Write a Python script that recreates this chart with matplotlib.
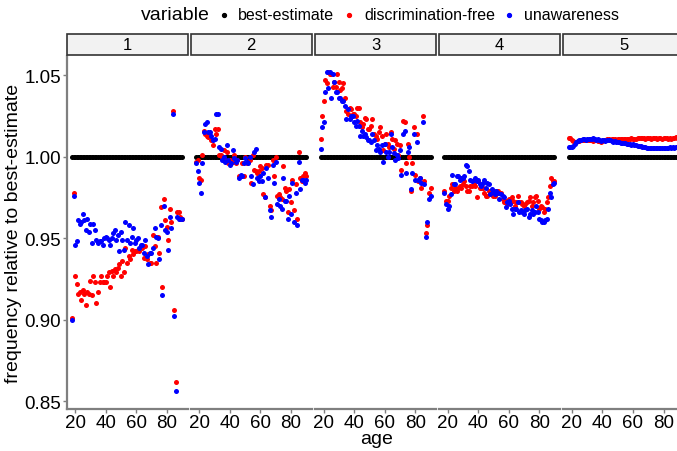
#!/usr/bin/env python3
"""
Relative claim frequency (vs best-estimate) by age, faceted by group 1-5.
Three price variants: best-estimate, discrimination-free, unawareness.
"""

import numpy as np
import matplotlib
matplotlib.use("Agg")
import matplotlib.pyplot as plt
from matplotlib.patches import Rectangle

plt.rcParams["font.family"] = ["Liberation Sans", "DejaVu Sans"]

AGES = np.arange(18, 91)
PANELS = ["1", "2", "3", "4", "5"]
VARIABLES = ["best-estimate", "discrimination-free", "unawareness"]
COLORS = {"best-estimate": "black", "discrimination-free": "red", "unawareness": "blue"}

Y_TICKS = [0.85, 0.90, 0.95, 1.00, 1.05]
X_TICKS = [20, 40, 60, 80]

# best-estimate is the reference, so it sits at 1 for every age
BEST_ESTIMATE = 1.0

# discrimination-free, ages 18..90, one list per panel
DISC_FREE_1 = [
    0.901, 0.978, 0.927, 0.922, 0.916, 0.917, 0.912, 0.918, 0.916, 0.909,
    0.917, 0.916, 0.924, 0.915, 0.927, 0.923, 0.910, 0.917, 0.923, 0.927,
    0.923, 0.923, 0.923, 0.927, 0.929, 0.920, 0.930, 0.927, 0.931, 0.929,
    0.932, 0.934, 0.927, 0.936, 0.929, 0.944, 0.935, 0.939, 0.937, 0.943,
    0.940, 0.942, 0.942, 0.943, 0.942, 0.945, 0.944, 0.938, 0.945, 0.937,
    0.940, 0.935, 0.935, 0.952, 0.945, 0.935, 0.951, 0.941, 0.969, 0.920,
    0.974, 0.961, 0.957, 0.949, 0.968, 0.960, 1.028, 0.906, 0.862, 0.966,
    0.966, 0.963, 0.962,
]
DISC_FREE_2 = [
    0.997, 0.998, 0.987, 0.986, 1.001, 1.016, 1.014, 1.013, 1.012, 1.013,
    1.010, 1.007, 1.017, 1.014, 1.017, 1.001, 1.001, 1.000, 1.004, 0.998,
    1.003, 0.996, 0.998, 0.996, 0.997, 1.001, 0.996, 0.998, 0.988, 0.988,
    0.996, 0.988, 1.000, 0.996, 0.997, 0.998, 0.984, 1.001, 0.992, 0.991,
    0.990, 0.991, 0.994, 0.993, 0.977, 0.975, 0.995, 0.995, 0.970, 0.967,
    0.998, 0.988, 1.000, 0.976, 0.977, 0.975, 0.974, 0.994, 0.981, 0.979,
    0.966, 0.980, 0.972, 0.986, 0.967, 0.983, 0.962, 1.003, 0.987, 0.985,
    0.988, 0.990, 0.988,
]
DISC_FREE_3 = [
    1.011, 1.025, 1.034, 1.047, 1.045, 1.052, 1.051, 1.051, 1.043, 1.046,
    1.043, 1.051, 1.046, 1.041, 1.042, 1.045, 1.036, 1.028, 1.026, 1.030,
    1.029, 1.026, 1.026, 1.025, 1.030, 1.030, 1.021, 1.018, 1.020, 1.024,
    1.023, 1.017, 1.017, 1.019, 1.023, 1.014, 1.013, 1.011, 1.015, 1.018,
    1.013, 1.004, 1.008, 1.014, 1.008, 1.006, 1.015, 1.011, 1.005, 1.010,
    1.008, 1.001, 1.007, 0.992, 1.022, 1.021, 0.996, 1.008, 1.000, 0.979,
    0.996, 1.018, 0.989, 1.014, 0.985, 0.987, 0.981, 1.025, 0.985, 0.953,
    0.958, 0.978, 0.981,
]
DISC_FREE_4 = [
    0.979, 0.973, 0.973, 0.976, 0.981, 0.983, 0.979, 0.981, 0.979, 0.981,
    0.982, 0.981, 0.983, 0.985, 0.982, 0.979, 0.979, 0.982, 0.982, 0.983,
    0.982, 0.975, 0.985, 0.981, 0.981, 0.981, 0.978, 0.976, 0.976, 0.979,
    0.977, 0.977, 0.976, 0.976, 0.979, 0.979, 0.978, 0.978, 0.974, 0.972,
    0.973, 0.971, 0.974, 0.972, 0.975, 0.973, 0.970, 0.972, 0.976, 0.972,
    0.972, 0.971, 0.970, 0.971, 0.972, 0.973, 0.975, 0.970, 0.972, 0.975,
    0.976, 0.973, 0.968, 0.970, 0.969, 0.966, 0.968, 0.972, 0.975, 0.982,
    0.987, 0.985, 0.985,
]
DISC_FREE_5 = [
    1.0115, 1.0112, 1.0105, 1.0098, 1.0092, 1.0090, 1.0095, 1.0098, 1.0100, 1.0102,
    1.0101, 1.0104, 1.0102, 1.0105, 1.0103, 1.0100, 1.0098, 1.0102, 1.0100, 1.0097,
    1.0094, 1.0092, 1.0096, 1.0100, 1.0103, 1.0106, 1.0108, 1.0105, 1.0108, 1.0110,
    1.0107, 1.0104, 1.0106, 1.0109, 1.0108, 1.0106, 1.0109, 1.0111, 1.0109, 1.0107,
    1.0111, 1.0113, 1.0110, 1.0108, 1.0111, 1.0114, 1.0112, 1.0114, 1.0116, 1.0113,
    1.0110, 1.0112, 1.0115, 1.0113, 1.0111, 1.0114, 1.0116, 1.0113, 1.0111, 1.0114,
    1.0112, 1.0110, 1.0113, 1.0115, 1.0112, 1.0110, 1.0113, 1.0111, 1.0112, 1.0115,
    1.0120, 1.0114, 1.0112,
]

# unawareness, ages 18..90
UNAWARE_1 = [
    0.900, 0.976, 0.946, 0.948, 0.961, 0.959, 0.960, 0.965, 0.961, 0.955,
    0.962, 0.954, 0.959, 0.947, 0.959, 0.955, 0.949, 0.947, 0.948, 0.948,
    0.946, 0.950, 0.951, 0.950, 0.949, 0.946, 0.950, 0.953, 0.955, 0.949,
    0.952, 0.942, 0.954, 0.949, 0.943, 0.960, 0.949, 0.958, 0.947, 0.951,
    0.956, 0.947, 0.949, 0.950, 0.944, 0.946, 0.946, 0.941, 0.949, 0.939,
    0.934, 0.941, 0.941, 0.944, 0.956, 0.951, 0.950, 0.937, 0.958, 0.915,
    0.970, 0.955, 0.954, 0.943, 0.963, 0.956, 1.026, 0.902, 0.856, 0.963,
    0.962, 0.962, 0.962,
]
UNAWARE_2 = [
    0.996, 0.991, 0.984, 0.978, 0.996, 1.015, 1.020, 1.021, 1.015, 1.015,
    1.013, 1.010, 1.011, 1.026, 1.026, 1.006, 1.005, 0.998, 1.000, 0.997,
    1.007, 0.998, 0.995, 0.996, 1.004, 0.999, 0.997, 0.998, 0.987, 0.989,
    0.988, 0.996, 0.999, 0.997, 0.996, 1.000, 0.988, 0.983, 1.003, 1.005,
    0.987, 0.985, 0.988, 0.985, 0.990, 0.975, 0.993, 0.987, 0.967, 0.963,
    0.995, 0.984, 0.997, 0.971, 0.974, 0.970, 0.968, 0.987, 0.973, 0.973,
    0.962, 0.976, 0.965, 0.984, 0.960, 0.978, 0.958, 0.997, 0.980, 0.986,
    0.986, 0.984, 0.986,
]
UNAWARE_3 = [
    1.005, 1.018, 1.021, 1.040, 1.052, 1.042, 1.052, 1.036, 1.051, 1.046,
    1.040, 1.040, 1.036, 1.036, 1.034, 1.034, 1.031, 1.023, 1.029, 1.023,
    1.025, 1.025, 1.021, 1.019, 1.022, 1.019, 1.013, 1.016, 1.013, 1.014,
    1.012, 1.010, 1.010, 1.009, 1.014, 1.010, 1.004, 1.007, 1.005, 1.003,
    1.007, 0.997, 1.008, 1.003, 1.000, 1.003, 1.014, 1.006, 1.002, 0.998,
    1.001, 0.999, 1.004, 0.989, 1.014, 1.016, 0.990, 1.003, 1.006, 0.980,
    0.990, 1.014, 0.986, 1.009, 0.986, 0.987, 0.984, 1.021, 0.983, 0.951,
    0.960, 0.974, 0.976,
]
UNAWARE_4 = [
    0.978, 0.971, 0.968, 0.970, 0.977, 0.989, 0.983, 0.983, 0.988, 0.988,
    0.986, 0.987, 0.987, 0.988, 0.995, 0.994, 0.991, 0.986, 0.985, 0.986,
    0.987, 0.985, 0.986, 0.983, 0.982, 0.984, 0.986, 0.981, 0.984, 0.983,
    0.977, 0.980, 0.979, 0.977, 0.979, 0.978, 0.974, 0.977, 0.976, 0.975,
    0.969, 0.972, 0.973, 0.971, 0.968, 0.965, 0.968, 0.968, 0.972, 0.966,
    0.967, 0.966, 0.965, 0.967, 0.968, 0.963, 0.965, 0.967, 0.965, 0.966,
    0.970, 0.966, 0.962, 0.961, 0.960, 0.960, 0.961, 0.962, 0.968, 0.978,
    0.975, 0.983, 0.984,
]
UNAWARE_5 = [
    1.0062, 1.0058, 1.0060, 1.0066, 1.0078, 1.0090, 1.0098, 1.0104, 1.0100, 1.0106,
    1.0108, 1.0104, 1.0108, 1.0110, 1.0107, 1.0110, 1.0113, 1.0108, 1.0104, 1.0106,
    1.0100, 1.0096, 1.0102, 1.0100, 1.0098, 1.0102, 1.0104, 1.0100, 1.0097, 1.0093,
    1.0095, 1.0091, 1.0088, 1.0090, 1.0087, 1.0084, 1.0086, 1.0082, 1.0079, 1.0081,
    1.0077, 1.0074, 1.0076, 1.0072, 1.0070, 1.0068, 1.0065, 1.0063, 1.0062, 1.0060,
    1.0058, 1.0056, 1.0055, 1.0056, 1.0054, 1.0055, 1.0053, 1.0054, 1.0055, 1.0053,
    1.0054, 1.0056, 1.0055, 1.0054, 1.0056, 1.0055, 1.0057, 1.0056, 1.0058, 1.0056,
    1.0057, 1.0058, 1.0057,
]

DISC_FREE = [DISC_FREE_1, DISC_FREE_2, DISC_FREE_3, DISC_FREE_4, DISC_FREE_5]
UNAWARE = [UNAWARE_1, UNAWARE_2, UNAWARE_3, UNAWARE_4, UNAWARE_5]

# layout in pixels of the 677x452 canvas
W, H = 677, 452
PANEL_LEFT = [66.5, 190.7, 315.0, 439.0, 563.3]
PANEL_W = 121.0
PANEL_TOP, PANEL_BOTTOM = 57.0, 409.5
STRIP_TOP = 35.0
AXIS_GREY = "#7F7F7F"
PT_SIZE = 13


def px_box(x0, y0, x1, y1):
    """Pixel box (top-left origin) -> figure fraction [l, b, w, h]."""
    return [x0 / W, 1 - y1 / H, (x1 - x0) / W, (y1 - y0) / H]


def draw_panel(fig, i):
    x0 = PANEL_LEFT[i]
    ax = fig.add_axes(px_box(x0, PANEL_TOP, x0 + PANEL_W, PANEL_BOTTOM))
    ax.scatter(AGES, np.full(len(AGES), BEST_ESTIMATE), s=PT_SIZE,
               color=COLORS["best-estimate"], linewidths=0, zorder=3)
    ax.scatter(AGES, DISC_FREE[i], s=PT_SIZE,
               color=COLORS["discrimination-free"], linewidths=0, zorder=3)
    ax.scatter(AGES, UNAWARE[i], s=PT_SIZE,
               color=COLORS["unawareness"], linewidths=0, zorder=3)

    ax.set_xlim(14.4, 93.6)
    ax.set_ylim(0.8455, 1.0618)
    ax.set_xticks(X_TICKS)
    ax.set_yticks(Y_TICKS)
    ax.set_yticklabels([f"{v:.2f}" for v in Y_TICKS])
    for side in ("top", "right"):
        ax.spines[side].set_visible(False)
    ax.spines["bottom"].set_color(AXIS_GREY)
    ax.spines["bottom"].set_linewidth(1.6)
    ax.spines["left"].set_color(AXIS_GREY)
    ax.spines["left"].set_linewidth(1.6)
    ax.tick_params(axis="both", colors=AXIS_GREY, labelcolor="black",
                   labelsize=13.5, length=3, width=1, pad=1)
    if i > 0:
        ax.spines["left"].set_visible(False)
        ax.tick_params(axis="y", left=False, labelleft=False)
    ax.set_facecolor("white")

    # facet strip
    sax = fig.add_axes(px_box(x0, STRIP_TOP, x0 + PANEL_W, PANEL_TOP - 1))
    sax.set_xlim(0, 1)
    sax.set_ylim(0, 1)
    sax.axis("off")
    sax.add_patch(Rectangle((0, 0), 1, 1, facecolor="#F2F2F2",
                            edgecolor="#333333", linewidth=1.2,
                            transform=sax.transAxes, clip_on=False))
    sax.text(0.5, 0.48, PANELS[i], ha="center", va="center", fontsize=12)
    return ax


def draw_legend(fig):
    y = 1 - 16 / H
    fig.text(175 / W, y, "variable", ha="center", va="center", fontsize=14)
    dots = [223.5, 349.0, 508.7]
    labels_x = [238.0, 364.0, 524.0]
    for var, dx, lx in zip(VARIABLES, dots, labels_x):
        fig.add_artist(plt.Line2D([dx / W], [y], marker="o", markersize=2.8,
                                  color=COLORS[var], linestyle="none",
                                  transform=fig.transFigure))
        fig.text(lx / W, y, var, ha="left", va="center", fontsize=11.5)


def main():
    fig = plt.figure(figsize=(W / 100, H / 100), dpi=100)
    fig.patch.set_facecolor("white")
    for i in range(len(PANELS)):
        draw_panel(fig, i)
    draw_legend(fig)
    fig.text(377 / W, 1 - 440 / H, "age", ha="center", va="center", fontsize=14)
    fig.text(14 / W, 1 - 233 / H, "frequency relative to best-estimate",
             ha="center", va="center", rotation=90, fontsize=14)
    fig.savefig("out.png", dpi=100)
    plt.close(fig)


if __name__ == "__main__":
    main()
